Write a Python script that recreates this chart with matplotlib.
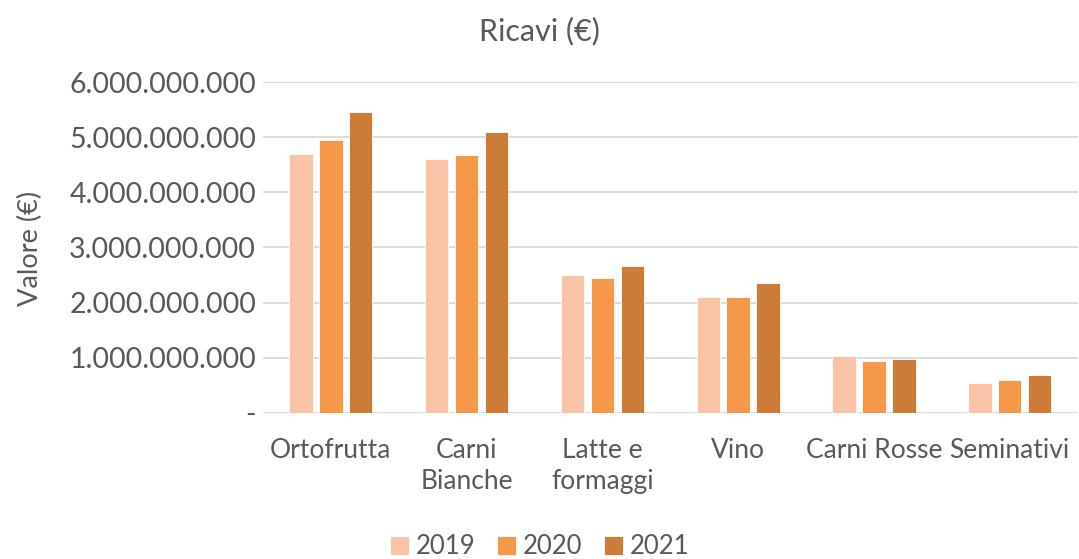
import numpy as np
import matplotlib.pyplot as plt
from matplotlib.ticker import FuncFormatter

# categories and values
categories = ['Ortofrutta', 'Carni\nBianche', 'Latte e\nformaggi', 'Vino', 'Carni Rosse', 'Seminativi']
years = ['2019', '2020', '2021']
ricavi_2019 = [4.70e9, 4.61e9, 2.50e9, 2.10e9, 1.03e9, 0.55e9]
ricavi_2020 = [4.94e9, 4.68e9, 2.44e9, 2.10e9, 0.95e9, 0.60e9]
ricavi_2021 = [5.46e9, 5.10e9, 2.67e9, 2.36e9, 0.98e9, 0.69e9]

colors = ['#F9C3A8', '#F6984A', '#CD7B38']
text_color = '#595959'

plt.rcParams['font.family'] = ['Lato', 'DejaVu Sans']

fig = plt.figure(figsize=(10.79, 5.59), dpi=100)
ax = fig.add_axes([0.2437, 0.2612, 0.755, 0.5921])

x = np.arange(len(categories))
width = 0.173
step = 0.22
for i, (vals, year) in enumerate(zip([ricavi_2019, ricavi_2020, ricavi_2021], years)):
    ax.bar(x + (i - 1) * step, vals, width, color=colors[i], label=year,
           edgecolor='white', linewidth=0.6, zorder=3)

ax.set_xlim(-0.5, len(categories) - 0.5)
ax.set_ylim(0, 6e9)
ax.set_yticks(np.arange(0, 6.01e9, 1e9))


def fmt(v, pos):
    if v == 0:
        return '-'
    return f'{int(round(v)):,}'.replace(',', '.')


ax.yaxis.set_major_formatter(FuncFormatter(fmt))
ax.grid(axis='y', color='#D9D9D9', linewidth=1.3, zorder=0)
for s in ax.spines.values():
    s.set_visible(False)
ax.tick_params(axis='both', length=0, colors=text_color)
ax.tick_params(axis='y', pad=5, labelsize=20.5)
ax.tick_params(axis='x', pad=18, labelsize=19)
ax.set_xticks(x)
ax.set_xticklabels(categories, va='top', linespacing=1.3)

fig.text(30 / 1079, 0.556, 'Valore (€)', rotation=90, ha='center', va='center',
         fontsize=19.5, color=text_color)
fig.text(0.5, 0.945, 'Ricavi (€)', ha='center', va='center', fontsize=22, color=text_color)

leg = fig.legend(loc='center', bbox_to_anchor=(0.5, 0.022), ncol=3, frameon=False,
                 fontsize=18.5, handlelength=0.75, handleheight=0.75, handletextpad=0.25,
                 columnspacing=0.85)
for t in leg.get_texts():
    t.set_color(text_color)

fig.savefig('out.png', dpi=100)
